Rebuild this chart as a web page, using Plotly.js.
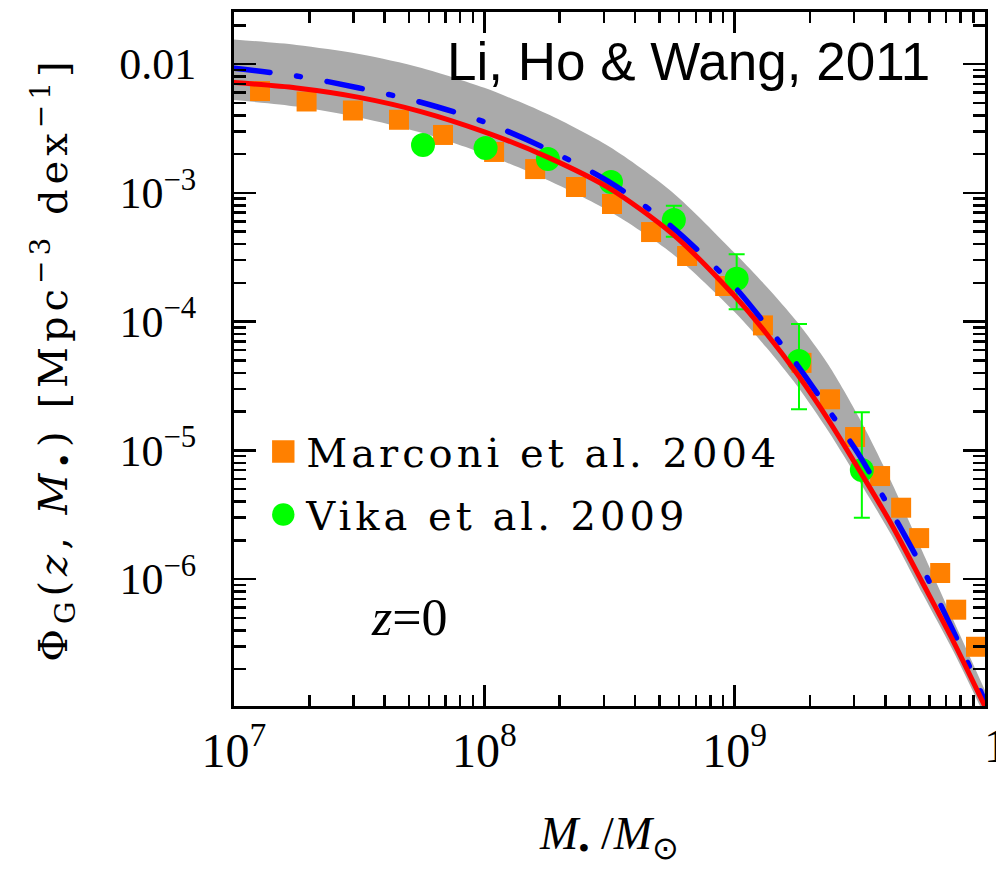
<!DOCTYPE html>
<html><head><meta charset="utf-8">
<script src="https://cdn.plot.ly/plotly-3.0.1.min.js"></script>
<style>
body{margin:0;background:#fff}
#chart{width:996px;height:869px}
.scatterlayer .js-line{stroke-linecap:round}
.legendtext{letter-spacing:4px}
.ytitle{letter-spacing:5px}
</style></head><body><div id="chart"></div>
<script>
// model curves sampled at log10(M/Msun)
const curveLogM = [7,7.25,7.5,7.75,8,8.25,8.5,8.75,9,9.125,9.25,9.375,9.5,9.625,9.75,9.875,10];
const redLogPhi = [-2.144,-2.186,-2.259,-2.371,-2.527,-2.721,-2.965,-3.317,-3.802,-4.089,-4.408,-4.765,-5.161,-5.570,-6.027,-6.489,-6.990];
const blueLogPhi = [-2.033,-2.093,-2.186,-2.299,-2.450,-2.660,-2.917,-3.266,-3.732,-4.027,-4.338,-4.687,-5.045,-5.472,-5.915,-6.412,-6.948];
const bandUpperLogPhi = [-1.810,-1.852,-1.922,-2.030,-2.185,-2.387,-2.643,-2.994,-3.468,-3.724,-4.004,-4.338,-4.757,-5.243,-5.786,-6.326,-6.866];
const bandLowerLogPhi = [-2.280,-2.330,-2.415,-2.534,-2.697,-2.899,-3.144,-3.472,-3.926,-4.198,-4.501,-4.854,-5.247,-5.655,-6.113,-6.567,-7.068];
// Marconi et al. 2004
const marconiLogM = [7.104,7.290,7.475,7.659,7.835,8.039,8.203,8.366,8.510,8.666,8.810,8.962,9.113,9.267,9.381,9.481,9.581,9.665,9.737,9.821,9.885,9.964];
const marconiLogPhi = [-2.210,-2.291,-2.361,-2.433,-2.551,-2.683,-2.816,-2.955,-3.087,-3.305,-3.491,-3.724,-4.030,-4.321,-4.604,-4.897,-5.200,-5.446,-5.682,-5.953,-6.238,-6.526];
// Vika et al. 2009
const vikaLogM = [7.755,8.005,8.254,8.506,8.757,9.008,9.257,9.508];
const vikaLogPhi = [-2.629,-2.652,-2.738,-2.917,-3.212,-3.668,-4.307,-5.153];
const vikaLogPhiHi = [null,null,null,null,-3.101,-3.478,-4.019,-4.705];
const vikaLogPhiLo = [null,null,null,null,-3.341,-3.905,-4.682,-5.524];
// ticks
const xTickVals = [1e7,1e8,1e9,1e10];
const xTickText = ['10<sup>7</sup>','10<sup>8</sup>','10<sup>9</sup>',' '];
const yTickVals = [1e-2,1e-3,1e-4,1e-5,1e-6];
const yTickText = ['0.01','10<sup>\u22123</sup>','10<sup>\u22124</sup>','10<sup>\u22125</sup>','10<sup>\u22126</sup>'];

const p = v => (v === null ? null : Math.pow(10, v));
const minorTicks = (lo, hi) => { const a = []; for (let d = lo; d < hi; d++) for (let k = 2; k <= 9; k++) a.push(k * Math.pow(10, d)); return a; };

const cx = curveLogM.map(p);
const vy = vikaLogPhi.map(p);
const errPlus = vikaLogPhiHi.map((h, i) => h === null ? NaN : p(h) - vy[i]);
const errMinus = vikaLogPhiLo.map((l, i) => l === null ? NaN : vy[i] - p(l));

const traces = [
  {x: cx, y: bandUpperLogPhi.map(p), mode: 'lines', line: {width: 0, color: '#aaaaaa', shape: 'spline', smoothing: 0.8}, showlegend: false, hoverinfo: 'skip'},
  {x: cx, y: bandLowerLogPhi.map(p), mode: 'lines', line: {width: 0, color: '#aaaaaa', shape: 'spline', smoothing: 0.8}, fill: 'tonexty', fillcolor: '#aaaaaa', showlegend: false, hoverinfo: 'skip'},
  {x: marconiLogM.map(p), y: marconiLogPhi.map(p), mode: 'markers', name: 'Marconi et al. 2004', legendgroup: 'a',
   marker: {symbol: 'square', size: 20, color: '#ff8000', line: {width: 0}}},
  {x: vikaLogM.map(p), y: vy, mode: 'markers', name: 'Vika et al. 2009', legendgroup: 'b',
   marker: {symbol: 'circle', size: 24, color: '#00ff00', line: {width: 0}},
   error_y: {type: 'data', symmetric: false, array: errPlus, arrayminus: errMinus, color: '#00ff00', thickness: 2, width: 8}},
  {x: cx, y: blueLogPhi.map(p), mode: 'lines', line: {color: '#0000ff', width: 5.5, dash: '36px,27px,4px,27px', shape: 'spline', smoothing: 0.8}, showlegend: false},
  {x: cx, y: redLogPhi.map(p), mode: 'lines', line: {color: '#ff0000', width: 5, shape: 'spline', smoothing: 0.8}, showlegend: false}
];

const axisCommon = {
  showline: true, linecolor: '#000', linewidth: 3, mirror: 'allticks',
  ticks: 'inside', tickcolor: '#000', tickwidth: 2.5,
  showgrid: false, zeroline: false, tickmode: 'array'
};

const layout = {
  width: 996, height: 869,
  margin: {l: 234, r: 11, t: 12, b: 163},
  paper_bgcolor: '#fff', plot_bgcolor: '#fff',
  showlegend: true,
  legend: {x: 0.035, y: 0.4135, xanchor: 'left', yanchor: 'top', bgcolor: 'rgba(0,0,0,0)',
           font: {family: 'DejaVu Serif', size: 40, color: '#000'}, traceorder: 'grouped', tracegroupgap: 8, itemwidth: 36},
  xaxis: Object.assign({}, axisCommon, {
    type: 'log', range: [7, 10], tickvals: xTickVals, ticktext: xTickText, ticklen: 21, ticklabelstandoff: 0,
    tickfont: {family: 'Liberation Serif', size: 48, color: '#000'},
    minor: {tickmode: 'array', tickvals: minorTicks(7, 10), ticks: 'inside', ticklen: 11, tickwidth: 2.5, tickcolor: '#000'},
    title: {text: '<i>M</i><sub>\u2022</sub> /<i>M</i><sub>\u2299</sub>', font: {family: 'Liberation Serif', size: 46, color: '#000'}, standoff: 42}
  }),
  yaxis: Object.assign({}, axisCommon, {
    type: 'log', range: [-6.986, -1.596], tickvals: yTickVals, ticktext: yTickText, ticklen: 22, ticklabelstandoff: 26,
    tickfont: {family: 'Liberation Serif', size: 44, color: '#000'},
    minor: {tickmode: 'array', tickvals: minorTicks(-7, -1), ticks: 'inside', ticklen: 12, tickwidth: 2.5, tickcolor: '#000'},
    title: {text: '\u03a6<sub>G</sub>(<i>z</i>, <i>M</i><sub>\u2022</sub>) [Mpc<sup>\u22123</sup> dex<sup>\u22121</sup>]\u00a0\u00a0\u00a0\u00a0',
            font: {family: 'DejaVu Serif', size: 40, color: '#000'}, standoff: 40}
  }),
  annotations: [
    {text: 'Li, Ho &amp; Wang, 2011', xref: 'paper', yref: 'paper', x: 0.929, y: 0.929, xanchor: 'right', yanchor: 'middle',
     showarrow: false, font: {family: 'Liberation Sans', size: 53, color: '#000'}},
    {text: '<i>z</i>=0', xref: 'paper', yref: 'paper', x: 0.234, y: 0.127, xanchor: 'center', yanchor: 'middle',
     showarrow: false, font: {family: 'Liberation Serif', size: 52, color: '#000'}},
    {text: '10<sup>10</sup>', xref: 'x', yref: 'paper', x: 10, y: -0.052, xanchor: 'left', yanchor: 'middle', xshift: -3,
     showarrow: false, font: {family: 'Liberation Serif', size: 48, color: '#000'}}
  ]
};

Plotly.newPlot('chart', traces, layout, {displayModeBar: false, staticPlot: true}).then(gd => {
  gd.querySelectorAll('.legend .legendpoints path.scatterpts').forEach(el => {
    const t = el.getAttribute('transform') || '';
    el.setAttribute('transform', t + ' scale(1.4)');
  });
});
</script></body></html>
